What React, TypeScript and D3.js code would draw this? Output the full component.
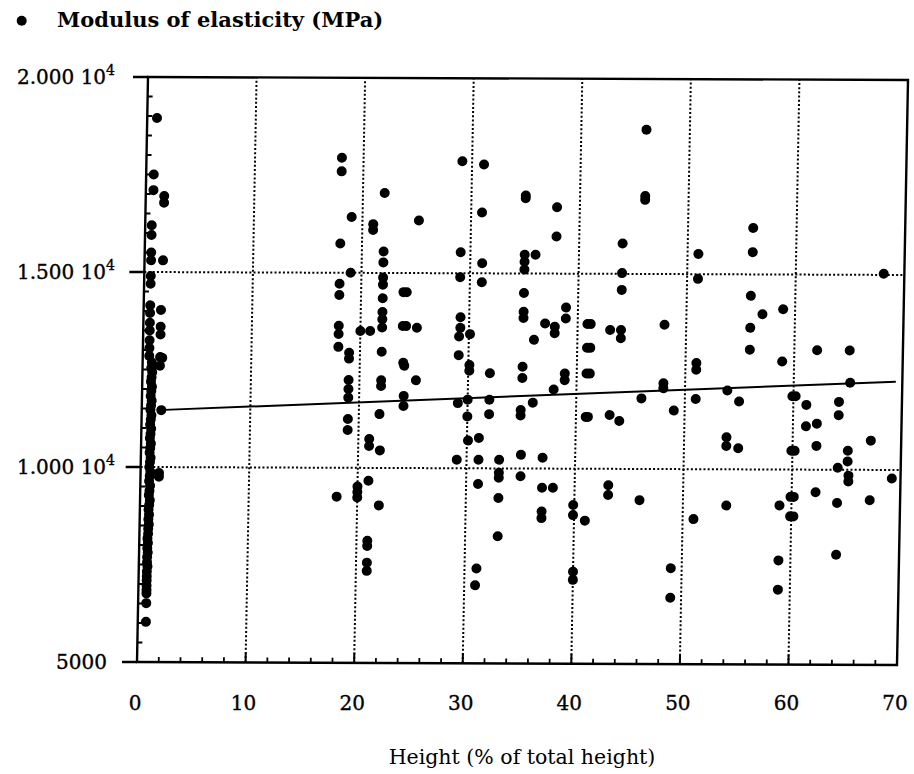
import React from 'react';
import * as d3 from 'd3';

// labels
const legendLabel = 'Modulus of elasticity (MPa)';
const xTitle = 'Height (% of total height)';
const xTicks = [0, 10, 20, 30, 40, 50, 60, 70];
const yTicks = [5000, 10000, 15000, 20000];
const yTickText = ['5000', '1.000 10', '1.500 10', '2.000 10'];
const yTickSup = ['', '4', '4', '4'];

// fitted line end points [height, modulus]
const fitLine: [number, number][] = [[1.5, 11460], [69.4, 12265]];

// points [height %, modulus MPa]
const baseColumn: [number, number][] = [
    [0.85, 12680], [0.8, 12540], [0.9, 12430], [0.85, 12300], [0.8, 12190], [0.9, 12060],
    [0.85, 11950], [0.8, 11820], [0.9, 11700], [0.85, 11580], [0.8, 11470], [0.9, 11330],
    [0.85, 11220], [0.8, 11090], [0.9, 10980], [0.85, 10850], [0.8, 10740], [0.9, 10600],
    [0.85, 10490], [0.8, 10370], [0.9, 10240], [0.85, 10130], [0.8, 10000], [0.9, 9880],
    [0.85, 9770], [0.8, 9640], [0.9, 9520], [0.85, 9390], [0.8, 9280], [0.9, 9150],
    [0.85, 9030], [0.8, 8910], [0.85, 8780], [0.8, 8660], [0.85, 8530], [0.8, 8420],
    [0.8, 8290], [0.75, 8170], [0.8, 8050], [0.75, 7920], [0.8, 7810], [0.75, 7690],
    [0.75, 7560], [0.8, 7450], [0.75, 7320], [0.75, 7200], [0.75, 7090], [0.75, 6960],
    [0.75, 6850], [0.75, 6760],
];
const baseUpper: [number, number][] = [
    [0.9, 18950], [0.7, 17500], [0.7, 17100], [1.7, 16950], [1.7, 16780], [0.6, 16200],
    [0.6, 15950], [0.6, 15500], [0.6, 15300], [1.7, 15300], [0.6, 14900], [0.6, 14700],
    [0.6, 14150], [0.6, 13950], [1.6, 14030], [1.6, 13600], [1.6, 13400], [0.6, 13700],
    [0.6, 13500], [0.6, 13250], [0.6, 13050], [0.6, 12850], [1.6, 12820], [1.6, 12600],
    [1.8, 12800], [1.8, 11460], [1.7, 9850], [1.7, 9750], [0.75, 6510], [0.75, 6030],
];
const midSpan: [number, number][] = [
    [18.0, 17950], [18.0, 17600], [22.0, 17050], [19.0, 16430], [21.0, 16250], [21.0, 16100],
    [25.2, 16350], [18.0, 15750], [22.0, 15550], [22.0, 15270], [19.0, 15000], [18.0, 14720],
    [18.0, 14430], [22.0, 14880], [22.0, 14700], [23.9, 14510], [24.2, 14510], [22.0, 14350],
    [22.0, 14000], [22.0, 13810], [22.0, 13600], [18.0, 13640], [18.0, 13430], [20.0, 13510],
    [20.9, 13510], [23.9, 13640], [24.2, 13640], [25.2, 13600], [18.0, 13100], [19.0, 12950],
    [19.0, 12800], [22.0, 12980], [24.0, 12700], [24.1, 12620], [25.2, 12250], [19.0, 12250],
    [19.0, 12020], [19.0, 11800], [22.0, 12250], [22.0, 12100], [24.1, 11850], [24.1, 11590],
    [19.0, 11250], [19.0, 10970], [21.9, 11380], [21.0, 10740], [21.0, 10560], [22.0, 10450],
    [18.1, 9260], [20.0, 9520], [20.0, 9380], [20.0, 9240], [21.0, 9670], [22.0, 9040],
    [21.0, 8130], [21.0, 8000], [21.0, 7570], [21.0, 7360],
    [29.1, 17870], [31.1, 17790], [31.0, 16560], [35.0, 17000], [35.0, 16930], [37.9, 16700],
    [37.9, 15950], [29.1, 15540], [31.1, 15260], [35.0, 15480], [36.0, 15480], [35.0, 15300],
    [35.0, 15100], [29.1, 14900], [31.1, 14770], [35.0, 14500], [35.0, 14020], [35.0, 13860],
    [37.0, 13720], [37.9, 13640], [37.9, 13470], [38.9, 14130], [38.9, 13850], [29.2, 13870],
    [29.2, 13600], [29.1, 13380], [30.1, 13440], [36.0, 13300], [29.1, 12900], [40.9, 13710],
    [41.2, 13710], [40.9, 13100], [41.2, 13100],
    [29.1, 11670], [30.1, 12650], [30.1, 12500], [30.0, 11760], [30.0, 11330], [32.0, 12440],
    [32.0, 11760], [32.0, 11390], [35.0, 12610], [35.0, 12320], [34.9, 11500], [34.9, 11360],
    [36.0, 11690], [37.9, 12030], [38.9, 12440], [38.9, 12270], [40.9, 12440], [41.2, 12440],
    [40.9, 11330], [41.1, 11330], [30.1, 10710], [31.1, 10780], [29.1, 10220], [31.1, 10220],
    [33.0, 10220], [35.0, 10350], [37.0, 10280], [33.0, 9890], [33.0, 9760], [35.0, 9800],
    [31.1, 9600], [37.0, 9510], [38.0, 9510], [33.0, 9240], [39.9, 9070], [39.9, 8810],
    [41.0, 8670], [37.0, 8900], [37.0, 8730], [33.0, 8260], [31.1, 7430], [31.0, 7000],
    [40.0, 7360], [40.0, 7150],
];
const upperSpan: [number, number][] = [
    [46.0, 18700], [46.0, 17000], [46.0, 16900], [44.0, 15780], [44.0, 15020], [44.0, 14590],
    [43.0, 13560], [44.0, 13560], [44.0, 13350], [48.0, 13700], [51.0, 15520], [51.0, 14880],
    [56.0, 16190], [56.0, 15570], [68.1, 15030], [55.9, 14450], [57.0, 13980], [58.9, 14110],
    [55.9, 13630], [55.9, 13070], [62.1, 13060], [65.1, 13060],
    [48.0, 12200], [48.0, 12070], [46.0, 11810], [43.1, 11380], [44.0, 11230], [49.0, 11500],
    [51.0, 12720], [51.0, 12550], [51.0, 11800], [53.9, 12020], [55.0, 11740], [53.9, 10820],
    [53.9, 10600], [55.0, 10540], [58.9, 12770], [59.9, 11880], [60.2, 11880], [61.2, 11660],
    [64.2, 11740], [64.2, 11400], [65.2, 12230], [61.2, 11110], [62.2, 11180], [62.2, 10610],
    [59.9, 10480], [60.2, 10480], [67.2, 10750], [65.1, 10490], [65.1, 10215], [64.2, 10050],
    [65.2, 9850], [65.2, 9700], [69.2, 9780], [43.1, 9580], [43.1, 9330], [46.0, 9200],
    [51.0, 8720], [54.0, 9070], [58.9, 9080], [59.9, 9300], [60.2, 9300], [59.9, 8800],
    [60.2, 8800], [62.2, 9420], [64.2, 9150], [67.2, 9220], [49.0, 7460], [49.0, 6700],
    [58.9, 7670], [58.9, 6920], [64.2, 7820],
];

const font = '"DejaVu Serif", "Liberation Serif", serif';

export default function App() {
    // plot frame (the scan is slightly sheared, so the frame is too)
    const originX = 137, originY = 662;
    const plotW = 760, plotH = 585;
    const shear = -11 / plotH;
    const tilt = 3 / plotW;

    const x = d3.scaleLinear().domain([0, 70]).range([0, plotW]);
    const y = d3.scaleLinear().domain([5000, 20000]).range([0, -plotH]);

    const allPoints = [...baseColumn, ...baseUpper, ...midSpan, ...upperSpan];
    const minorY = d3.range(5500, 20000, 500).filter((v) => v % 5000 !== 0);
    const minorX = d3.range(2, 70, 2).filter((v) => v % 10 !== 0);
    const gridX = xTicks.filter((v) => v > 0 && v < 70);
    const gridY = yTicks.filter((v) => v > 5000 && v < 20000);
    const fitPath = d3.line<[number, number]>()
        .x((d) => x(d[0]))
        .y((d) => y(d[1]))(fitLine);

    const axisPy = (v: number) => originY + y(v);

    return (
        <svg width={914} height={774} style={{position: 'absolute', left: 0, top: 0, background: '#fff'}}>
            <rect width={914} height={774} fill="#fff" />
            {/* legend */}
            <circle cx={21.7} cy={20.7} r={5} fill="#000" />
            <text x={57} y={27} fontFamily={font} fontWeight="bold" fontSize={21}>{legendLabel}</text>

            <g transform={`matrix(1,${tilt},${shear},1,${originX},${originY})`}>
                {/* grid */}
                {gridX.map((v) => (
                    <line key={'gx' + v} x1={x(v)} x2={x(v)} y1={y(5000)} y2={y(20000)}
                        stroke="#000" strokeWidth={2} strokeDasharray="2 2.2" />
                ))}
                {gridY.map((v) => (
                    <line key={'gy' + v} x1={x(0)} x2={x(70)} y1={y(v)} y2={y(v)}
                        stroke="#000" strokeWidth={2} strokeDasharray="2 2.2" />
                ))}
                {/* frame */}
                <rect x={x(0)} y={y(20000)} width={plotW} height={plotH} fill="none" stroke="#000" strokeWidth={2.4} />
                {/* y ticks */}
                {yTicks.map((v) => (
                    <line key={'yt' + v} x1={-15} x2={0} y1={y(v)} y2={y(v)} stroke="#000" strokeWidth={2.4} />
                ))}
                {minorY.map((v) => (
                    <line key={'ym' + v} x1={0} x2={5} y1={y(v)} y2={y(v)} stroke="#000" strokeWidth={1.8} />
                ))}
                {/* x ticks */}
                {gridX.map((v) => (
                    <line key={'xt' + v} x1={x(v)} x2={x(v)} y1={0} y2={-10} stroke="#000" strokeWidth={2} />
                ))}
                {minorX.map((v) => (
                    <line key={'xm' + v} x1={x(v)} x2={x(v)} y1={0} y2={-5} stroke="#000" strokeWidth={1.8} />
                ))}
                {/* fit */}
                <path d={fitPath || ''} fill="none" stroke="#000" strokeWidth={2} />
                {/* points */}
                {allPoints.map((d, i) => (
                    <circle key={'p' + i} cx={x(d[0])} cy={y(d[1])} r={5} fill="#000" />
                ))}
            </g>

            {/* y tick labels */}
            {yTicks.map((v, i) => (
                <text key={'yl' + v} x={yTickSup[i] ? 115 : 107} y={axisPy(v) + 7}
                    textAnchor="end" fontFamily={font} fontSize={20} stroke="#000" strokeWidth={0.35}>
                    {yTickText[i]}
                    {yTickSup[i] && <tspan fontSize={14} dy={-9}>{yTickSup[i]}</tspan>}
                </text>
            ))}
            {/* x tick labels */}
            {xTicks.map((v) => (
                <text key={'xl' + v} x={originX + x(v) - 2} y={710} textAnchor="middle" fontFamily={font}
                    fontSize={20} stroke="#000" strokeWidth={0.35}>{v}</text>
            ))}
            <text x={522} y={764} textAnchor="middle" fontFamily={font} fontSize={20.5}>{xTitle}</text>
        </svg>
    );
}
